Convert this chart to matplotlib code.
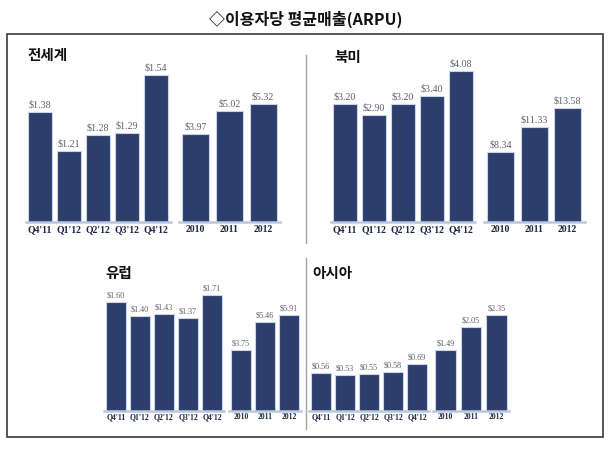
import matplotlib
matplotlib.use("Agg")
import matplotlib.pyplot as plt
from matplotlib.patches import Rectangle
from matplotlib.lines import Line2D

# ---------------- data ----------------
quarters = ["Q4'11", "Q1'12", "Q2'12", "Q3'12", "Q4'12"]
years = ["2010", "2011", "2012"]

world_q = [1.38, 1.21, 1.28, 1.29, 1.54]
world_y = [3.97, 5.02, 5.32]
na_q = [3.20, 2.90, 3.20, 3.40, 4.08]
na_y = [8.34, 11.33, 13.58]
eu_q = [1.60, 1.40, 1.43, 1.37, 1.71]
eu_y = [3.75, 5.46, 5.91]
asia_q = [0.56, 0.53, 0.55, 0.58, 0.69]
asia_y = [1.49, 2.05, 2.35]

title = "◇이용자당 평균매출(ARPU)"
panel_titles = ["전세계", "북미", "유럽", "아시아"]

# ---------------- style ----------------
W, H = 612, 450
KFONT = ['Noto Sans CJK KR', 'DejaVu Sans']
SERIF = ['Liberation Serif', 'DejaVu Serif']
BAR = "#2d3e6c"
EDGE = "#c9d4e6"
BASE = "#b9c8dd"
VALC = "#5b606c"
TICKC = "#1c2541"

fig = plt.figure(figsize=(W / 100, H / 100), dpi=100)
fig.patch.set_facecolor("white")


def fx(x):
    return x / W


def fy(y):
    return 1 - y / H


def group(cats, vals, left, right, top, base, ymin, ppu, width, tsize, vsize, pad):
    ax = fig.add_axes([fx(left), fy(base), (right - left) / W, (base - top) / H])
    xs = list(range(len(cats)))
    ax.bar(xs, vals, width=width, color=BAR, edgecolor=EDGE, linewidth=0.8, zorder=2)
    ax.set_xlim(-0.5, len(cats) - 0.5)
    ax.set_ylim(ymin, ymin + (base - top) / ppu)
    ax.set_xticks(xs)
    ax.set_xticklabels(cats, fontfamily=SERIF, fontweight="bold", fontsize=tsize, color=TICKC)
    ax.tick_params(axis="x", length=0, pad=pad)
    ax.set_yticks([])
    for s in ["top", "left", "right"]:
        ax.spines[s].set_visible(False)
    ax.spines["bottom"].set_color(BASE)
    ax.spines["bottom"].set_linewidth(1.8)
    ax.set_facecolor("none")
    for x, v in zip(xs, vals):
        ax.annotate(f"${v:.2f}", (x, v), xytext=(0, 1.8), textcoords="offset points",
                    ha="center", va="bottom", fontsize=vsize, color=VALC,
                    fontfamily=SERIF, annotation_clip=False)
    return ax


# top-left: world
group(quarters, world_q, 25.5, 170.5, 65, 222, 0.9, 229, 0.83, 7, 7.2, 2.2)
group(years, world_y, 178.6, 280, 65, 222, 0, 22.2, 0.8, 7, 7.2, 2.2)
# top-right: north america
group(quarters, na_q, 330.5, 475.5, 65, 222, 0, 37, 0.83, 7, 7.2, 2.2)
group(years, na_y, 484, 584.5, 65, 222, 0, 8.4, 0.8, 7, 7.2, 2.2)
# bottom-left: europe
group(quarters, eu_q, 104, 224, 285, 411, 0, 68, 0.83, 5.5, 5.9, 1.5)
group(years, eu_y, 229, 301, 285, 411, 0, 16.3, 0.83, 5.5, 5.9, 1.5)
# bottom-right: asia
group(quarters, asia_q, 309, 429, 285, 411, 0, 68, 0.83, 5.5, 5.9, 1.5)
group(years, asia_y, 432.75, 509.25, 285, 411, 0, 41, 0.8, 5.5, 5.9, 1.5)

# frame and separators
fig.add_artist(Rectangle((fx(7), fy(437)), (603 - 7) / W, (437 - 34) / H,
                         transform=fig.transFigure, fill=False,
                         edgecolor="#3a3a3a", linewidth=1.2))
fig.add_artist(Line2D([fx(305.5), fx(305.5)], [fy(55), fy(243)],
                      transform=fig.transFigure, color="#a5a5a5", linewidth=1))
fig.add_artist(Line2D([fx(305.5), fx(305.5)], [fy(258), fy(429)],
                      transform=fig.transFigure, color="#a5a5a5", linewidth=1))

# titles
fig.text(fx(306), fy(19), title, ha="center", va="center", fontsize=11.5,
         fontweight="bold", family=KFONT, color="#111111")
fig.text(fx(28), fy(55), panel_titles[0], ha="left", va="center", fontsize=10.5,
         fontweight="bold", family=KFONT, color="#111111")
fig.text(fx(334), fy(57), panel_titles[1], ha="left", va="center", fontsize=10.5,
         fontweight="bold", family=KFONT, color="#111111")
fig.text(fx(105), fy(273), panel_titles[2], ha="left", va="center", fontsize=10.5,
         fontweight="bold", family=KFONT, color="#111111")
fig.text(fx(312), fy(273), panel_titles[3], ha="left", va="center", fontsize=10.5,
         fontweight="bold", family=KFONT, color="#111111")

fig.savefig("out.png", dpi=100, facecolor="white")
